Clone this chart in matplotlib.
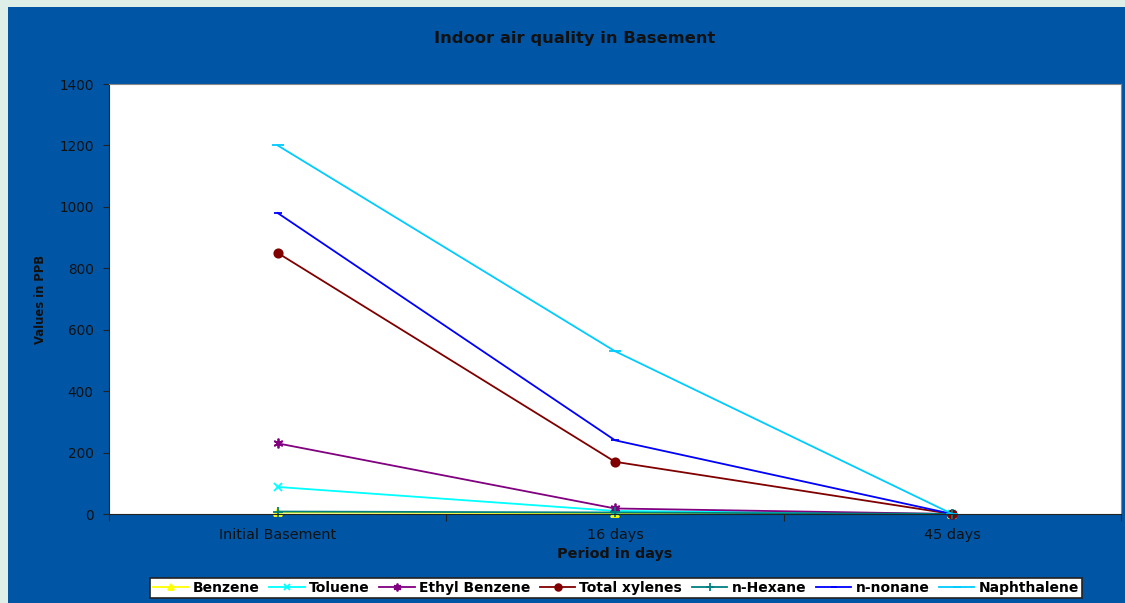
import numpy as np
import matplotlib.pyplot as plt
from matplotlib.patches import Rectangle

periods = ['Initial Basement', '16 days', '45 days']

benzene = [5, 3, 0]
toluene = [88, 10, 0]
ethyl_benzene = [230, 18, 0]
total_xylenes = [850, 170, 0]
n_hexane = [8, 5, 0]
n_nonane = [980, 240, 0]
naphthalene = [1200, 530, 0]

series = [
    ('Benzene', benzene, '#FFFF00', '^', 6),
    ('Toluene', toluene, '#00FFFF', 'x', 6),
    ('Ethyl Benzene', ethyl_benzene, '#800080', (6, 2, 0), 7),
    ('Total xylenes', total_xylenes, '#800000', 'o', 6),
    ('n-Hexane', n_hexane, '#008080', '+', 7),
    ('n-nonane', n_nonane, '#0000FF', '_', 6),
    ('Naphthalene', naphthalene, '#00CCFF', '_', 8),
]

fig = plt.figure(figsize=(11.25, 6.03), dpi=100)
fig.patch.set_facecolor('#DDEFE6')
# blue panel behind the chart
fig.add_artist(Rectangle((8 / 1125, 0), 1 - 8 / 1125, 1 - 7 / 603,
                         transform=fig.transFigure, facecolor='#0055A5',
                         edgecolor='none', zorder=0))

ax = fig.add_axes([109 / 1125, 1 - 514 / 603, 1012 / 1125, 430 / 603])
ax.set_facecolor('white')

x = np.arange(len(periods)) + 0.5
for name, vals, color, marker, ms in series:
    ax.plot(x, vals, color=color, marker=marker, markersize=ms, linewidth=1.3,
            markeredgewidth=1.3, label=name, clip_on=False)

ax.set_xlim(0, 3)
ax.set_ylim(0, 1400)
ax.set_yticks(np.arange(0, 1401, 200))
ax.set_xticks([0, 1, 2, 3])
ax.set_xticklabels([])
ax.set_xticks(x, minor=True)
ax.set_xticklabels(periods, minor=True)
ax.tick_params(axis='x', which='minor', length=0, pad=10, labelsize=10.4,
               labelcolor='#111111')
ax.tick_params(axis='x', which='major', length=5, direction='out', color='#222222')
ax.tick_params(axis='y', length=4, pad=7, direction='out', labelsize=9.8,
               color='#222222', labelcolor='#111111')

for side in ['top', 'right']:
    ax.spines[side].set_color('#888888')
for side in ['left', 'bottom']:
    ax.spines[side].set_color('#222222')

fig.text(575 / 1125, 1 - 38 / 603, 'Indoor air quality in Basement',
         ha='center', va='center', fontsize=11.8, fontweight='bold',
         color='#111111')
fig.text(615 / 1125, 1 - 554 / 603, 'Period in days',
         ha='center', va='center', fontsize=10.4, fontweight='bold',
         color='#111111')
fig.text(40 / 1125, 1 - 299 / 603, 'Values in PPB', rotation=90,
         ha='center', va='center', fontsize=9.3, fontweight='bold',
         fontstretch='condensed', color='#111111')

leg = ax.legend(loc='center', bbox_to_anchor=(616 / 1125, 1 - 588 / 603),
                bbox_transform=fig.transFigure, ncol=7, frameon=True,
                fancybox=False, edgecolor='#222222', framealpha=1,
                facecolor='white',
                prop={'weight': 'bold', 'size': 10}, handlelength=2.55,
                columnspacing=0.7, handletextpad=0.3, borderpad=0.2,
                borderaxespad=0, markerscale=0.8)
leg.get_frame().set_linewidth(1.2)

fig.savefig('out.png', dpi=100, facecolor=fig.get_facecolor())
